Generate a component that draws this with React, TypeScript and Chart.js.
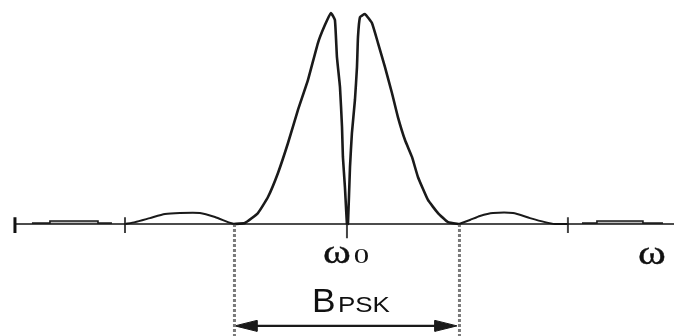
import React, { useEffect, useRef } from "react";
import { Chart, registerables } from "chart.js";

Chart.register(...registerables);

// Frequency axis in units of half the main-lobe width (ω - ω0) / (B/2); amplitude normalised to peak = 1.
const mainLobeX = [-1.004, -0.907, -0.791, -0.702, -0.613, -0.524, -0.436, -0.347, -0.258, -0.196, -0.142, -0.107, -0.089, -0.062, -0.044, -0.036, -0.018, 0,
  0.009, 0.027, 0.044, 0.071, 0.089, 0.098, 0.116, 0.16, 0.222, 0.276, 0.338, 0.4, 0.453, 0.516, 0.578, 0.631, 0.72, 0.809, 0.898, 0.996];
const mainLobeY = [0, 0.005, 0.052, 0.128, 0.242, 0.384, 0.54, 0.682, 0.858, 0.943, 1.0, 0.967, 0.791, 0.649, 0.46, 0.318, 0.175, 0,
  0, 0.27, 0.431, 0.588, 0.744, 0.886, 0.981, 0.995, 0.953, 0.858, 0.744, 0.621, 0.507, 0.398, 0.318, 0.223, 0.114, 0.052, 0.009, 0];

const leftLobeX = [-1.973, -1.884, -1.751, -1.618, -1.484, -1.307, -1.173, -1.058, -1.004];
const leftLobeY = [0, 0.009, 0.028, 0.047, 0.052, 0.052, 0.033, 0.009, 0];
const rightLobeX = [0.996, 1.093, 1.182, 1.298, 1.476, 1.627, 1.76, 1.849, 1.964];
const rightLobeY = [0, 0.019, 0.038, 0.052, 0.052, 0.028, 0.009, 0, 0];

const farLeftX = [-2.8, -2.64, -2.64, -2.213, -2.213, -2.089];
const farLeftY = [0.005, 0.005, 0.014, 0.014, 0.005, 0.005];
const farRightX = [2.089, 2.222, 2.222, 2.631, 2.631, 2.809];
const farRightY = [0.005, 0.005, 0.014, 0.014, 0.005, 0.005];

const axisX = [-2.951, 2.907];
const tickPositions = [-2.951, -1.973, 0, 1.964];
const bandEdges = [-1, 1];
const arrowLevel = -0.483;

const xMin = -3.084;
const xMax = 2.907;
const yMin = -0.531;
const yMax = 1.062;

const pts = (xs: number[], ys: number[]) => xs.map((x, i) => ({ x, y: ys[i] }));

export default function App() {
  const ref = useRef<HTMLCanvasElement | null>(null);

  useEffect(() => {
    if (!ref.current) return;
    const line = (data: any[], extra: any = {}) => ({
      data,
      showLine: true,
      pointRadius: 0,
      borderColor: "#1a1a1a",
      borderWidth: 2.2,
      tension: 0,
      fill: false,
      ...extra,
    });

    const datasets: any[] = [];
    datasets.push(line(pts(axisX, [0, 0]), { borderWidth: 1.5, borderColor: "#111" }));
    tickPositions.forEach((t, i) => {
      const ys = t === 0 ? [0, -0.068] : [0.032, -0.043];
      datasets.push(line(pts([t, t], ys), { borderWidth: i === 0 ? 3 : 2, borderColor: i === 0 ? "#111" : "#444" }));
    });
    bandEdges.forEach((b) => {
      datasets.push(line(pts([b, b], [0, yMin]), { borderWidth: 3, borderColor: "#7a7a7a", borderDash: [3, 2] }));
    });
    datasets.push(line(pts(mainLobeX, mainLobeY), { borderWidth: 2.6, tension: 0.12 }));
    datasets.push(line(pts(leftLobeX, leftLobeY), { borderWidth: 2, tension: 0.2 }));
    datasets.push(line(pts(rightLobeX, rightLobeY), { borderWidth: 2, tension: 0.2 }));
    datasets.push(line(pts(farLeftX, farLeftY), { borderWidth: 1.6, fill: "origin", backgroundColor: "#bdbdbd" }));
    datasets.push(line(pts(farRightX, farRightY), { borderWidth: 1.6, fill: "origin", backgroundColor: "#bdbdbd" }));
    // arrow shaft
    datasets.push(line(pts([-0.95, 0.93], [arrowLevel, arrowLevel]), { borderWidth: 2.2 }));
    // arrow heads
    datasets.push(line(pts([-0.996, -0.8, -0.8, -0.996], [arrowLevel, arrowLevel + 0.026, arrowLevel - 0.026, arrowLevel]), { borderWidth: 1, fill: "shape", backgroundColor: "#1a1a1a" }));
    datasets.push(line(pts([0.978, 0.782, 0.782, 0.978], [arrowLevel, arrowLevel + 0.026, arrowLevel - 0.026, arrowLevel]), { borderWidth: 1, fill: "shape", backgroundColor: "#1a1a1a" }));

    const labelPlugin = {
      id: "labels",
      afterDatasetsDraw(chart: any) {
        const { ctx, scales } = chart;
        const px = (u: number) => scales.x.getPixelForValue(u);
        const py = (v: number) => scales.y.getPixelForValue(v);
        const draw = (text: string, font: string, u: number, v: number, sx: number, stroke = 0) => {
          ctx.save();
          ctx.font = font;
          ctx.fillStyle = "#111";
          ctx.strokeStyle = "#111";
          ctx.lineWidth = stroke;
          ctx.textBaseline = "alphabetic";
          ctx.textAlign = "left";
          ctx.translate(px(u), py(v));
          ctx.scale(sx, 1);
          ctx.fillText(text, 0, 0);
          if (stroke > 0) ctx.strokeText(text, 0, 0);
          ctx.restore();
        };
        draw("ω", '33px "Liberation Serif"', -0.213, -0.185, 1.28, 0.35);
        draw("0", '22px "Liberation Serif"', 0.06, -0.185, 1.4);
        draw("ω", '33px "Liberation Serif"', 2.587, -0.19, 1.28, 0.35);
        draw("B", '33px "Liberation Sans"', -0.311, -0.417, 1.07);
        draw("PSK", '22px "Liberation Sans"', -0.08, -0.417, 1.18);
      },
    };

    const chart = new Chart(ref.current, {
      type: "scatter",
      data: { datasets },
      options: {
        responsive: false,
        maintainAspectRatio: false,
        animation: false,
        layout: { padding: 0 },
        plugins: { legend: { display: false }, tooltip: { enabled: false } },
        scales: {
          x: { type: "linear", min: xMin, max: xMax, display: false },
          y: { type: "linear", min: yMin, max: yMax, display: false },
        },
      },
      plugins: [labelPlugin],
    });
    return () => chart.destroy();
  }, []);

  return (
    <div style={{ position: "fixed", left: 0, top: 0, width: 674, height: 336, background: "#fff" }}>
      <canvas ref={ref} width={674} height={336} style={{ width: 674, height: 336, display: "block" }} />
    </div>
  );
}
